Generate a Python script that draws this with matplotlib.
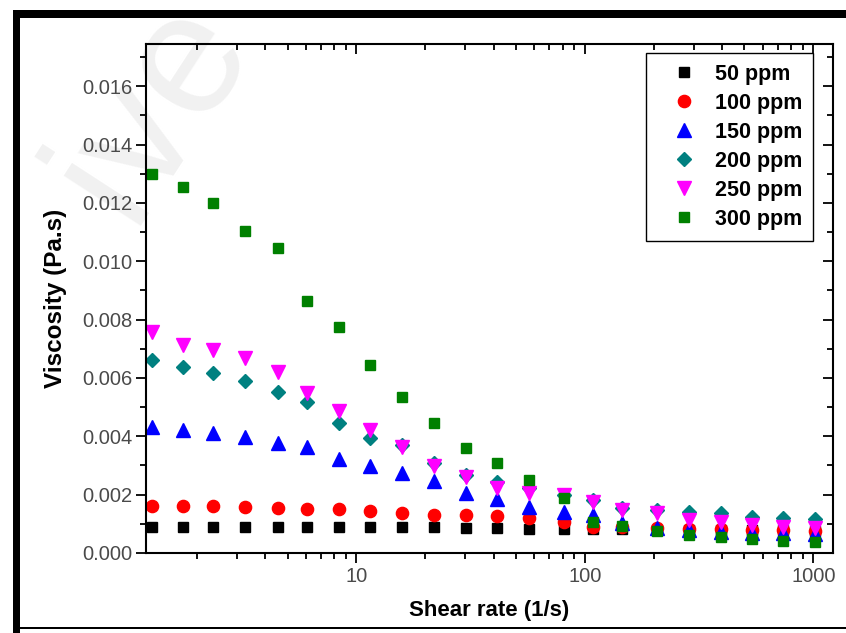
import numpy as np
import matplotlib
matplotlib.use("Agg")
import matplotlib.pyplot as plt
from matplotlib.patches import Rectangle
from matplotlib.ticker import LogLocator, MultipleLocator, FormatStrFormatter, NullFormatter

plt.rcParams.update({
    "font.family": ["Liberation Sans", "DejaVu Sans"],
    "xtick.major.width": 1.3, "ytick.major.width": 1.3,
    "xtick.minor.width": 1.3, "ytick.minor.width": 1.3,
})

# shear rate (1/s)
shear = [1.28, 1.75, 2.35, 3.24, 4.54, 6.08, 8.40, 11.5, 15.9, 21.8, 30.2,
         41.2, 57.2, 80.7, 109, 145, 207, 285, 395, 538, 740, 1020]

# viscosity (Pa.s) per concentration
visc_50 = [0.0009, 0.0009, 0.0009, 0.0009, 0.0009, 0.0009, 0.0009, 0.0009, 0.0009,
           0.00089, 0.00085, 0.00085, 0.00083, 0.00083, 0.00083, 0.00081, 0.0008,
           0.0008, 0.00079, 0.00078, 0.00078, 0.00077]
visc_100 = [0.0016, 0.0016, 0.0016, 0.00156, 0.00154, 0.00152, 0.0015, 0.00145,
            0.00137, 0.0013, 0.00129, 0.00127, 0.00121, 0.00107, 0.0009, 0.0009,
            0.00086, 0.00083, 0.00081, 0.0008, 0.00078, 0.00077]
visc_150 = [0.00433, 0.00421, 0.0041, 0.00396, 0.00378, 0.00364, 0.00321, 0.00298,
            0.00273, 0.00248, 0.00207, 0.00184, 0.00159, 0.00141, 0.0013, 0.00102,
            0.00085, 0.00079, 0.00073, 0.0007, 0.00068, 0.00066]
visc_200 = [0.00661, 0.00638, 0.00618, 0.0059, 0.00552, 0.00518, 0.00446, 0.00393,
            0.0037, 0.00307, 0.00267, 0.00242, 0.00222, 0.002, 0.00182, 0.00153,
            0.00147, 0.00141, 0.00136, 0.00124, 0.00119, 0.00118]
visc_250 = [0.00758, 0.00712, 0.00695, 0.00667, 0.00621, 0.00549, 0.00487, 0.00421,
            0.00364, 0.00298, 0.00259, 0.00224, 0.00204, 0.00199, 0.00176, 0.00147,
            0.00136, 0.00113, 0.00107, 0.00096, 0.0009, 0.00085]
visc_300 = [0.01298, 0.01255, 0.01201, 0.01104, 0.01046, 0.00864, 0.00775, 0.00644,
            0.00535, 0.00444, 0.00359, 0.00309, 0.0025, 0.00187, 0.00107, 0.00094,
            0.00076, 0.00062, 0.00054, 0.00047, 0.00042, 0.00037]

labels = ["50 ppm", "100 ppm", "150 ppm", "200 ppm", "250 ppm", "300 ppm"]
series = [visc_50, visc_100, visc_150, visc_200, visc_250, visc_300]
colors = ["#000000", "#ff0000", "#0000ff", "#008080", "#ff00ff", "#008000"]
markers = ["s", "o", "^", "D", "v", "s"]
msizes = [7.5, 8.8, 9.5, 7.5, 9.5, 7.5]

fig = plt.figure(figsize=(8.46, 6.33), dpi=100)
ax = fig.add_axes([146 / 846, 1 - 553 / 633, 687 / 846, 509 / 633])
ax.set_facecolor("none")

# faint watermark behind everything
fig.text(0.18, 0.83, "ive", fontsize=125, color="#f1f1f1", rotation=57,
         ha="center", va="center", zorder=-5)

for y, c, m, ms, lab in zip(series, colors, markers, msizes, labels):
    ax.plot(shear, y, ls="none", marker=m, ms=ms, color=c, mec=c, label=lab)

ax.set_xscale("log")
ax.set_xlim(1.2, 1220)
ax.set_ylim(0, 0.01745)
ax.xaxis.set_major_locator(LogLocator(base=10, numticks=10))
ax.xaxis.set_minor_locator(LogLocator(base=10, subs=np.arange(2, 10), numticks=10))
ax.xaxis.set_minor_formatter(NullFormatter())
ax.xaxis.set_major_formatter(FormatStrFormatter("%d"))
ax.yaxis.set_major_locator(MultipleLocator(0.002))
ax.yaxis.set_minor_locator(MultipleLocator(0.001))
ax.yaxis.set_major_formatter(FormatStrFormatter("%.3f"))

for s in ax.spines.values():
    s.set_linewidth(1.5)
ax.tick_params(which="major", direction="out", length=7, labelsize=14.5,
               labelcolor="#4a4a4a", pad=3)
ax.tick_params(which="minor", direction="out", length=4)
ax.tick_params(which="both", top=True, right=True)
# top / right ticks point inward
for t in ax.xaxis.get_majorticklines()[1::2] + ax.xaxis.get_minorticklines()[1::2]:
    t.set_marker(3)
for t in ax.yaxis.get_majorticklines()[1::2] + ax.yaxis.get_minorticklines()[1::2]:
    t.set_marker(0)

ax.set_xlabel("Shear rate (1/s)", fontsize=16, fontweight="bold", labelpad=10)
ax.set_ylabel("Viscosity (Pa.s)", fontsize=17.5, fontweight="bold", labelpad=11)

leg = ax.legend(loc="upper right", bbox_to_anchor=(0.971, 0.982), borderaxespad=0,
                prop={"weight": "bold", "size": 15.5}, frameon=True, fancybox=False,
                edgecolor="black", framealpha=1, labelspacing=0.37, handletextpad=0.2,
                handlelength=2.5, borderpad=0.5, numpoints=1)
leg.get_frame().set_linewidth(1.0)

# outer black frame of the figure
fig.add_artist(Rectangle((13 / 846, 0), 7 / 846, 1 - 10 / 633, transform=fig.transFigure,
                         color="black", lw=0))
fig.add_artist(Rectangle((13 / 846, 1 - 18 / 633), 1, 8 / 633, transform=fig.transFigure,
                         color="black", lw=0))
fig.add_artist(Rectangle((13 / 846, 1 - 629 / 633), 1, 2 / 633, transform=fig.transFigure,
                         color="black", lw=0))

fig.savefig("out.png", dpi=100, facecolor="white")
